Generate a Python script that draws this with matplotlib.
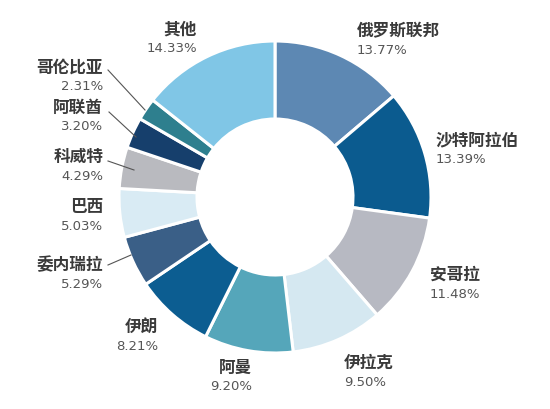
import matplotlib.pyplot as plt

plt.rcParams['font.family'] = ['Noto Sans CJK SC', 'DejaVu Sans']

countries = ['俄罗斯联邦', '沙特阿拉伯', '安哥拉', '伊拉克', '阿曼', '伊朗',
             '委内瑞拉', '巴西', '科威特', '阿联酋', '哥伦比亚', '其他']
shares = [13.77, 13.39, 11.48, 9.50, 9.20, 8.21, 5.29, 5.03, 4.29, 3.20, 2.31, 14.33]
pct_labels = ['13.77%', '13.39%', '11.48%', '9.50%', '9.20%', '8.21%',
              '5.29%', '5.03%', '4.29%', '3.20%', '2.31%', '14.33%']

colors = ['#5d88b3', '#0b5b8f', '#b7b9c2', '#d5e8f1', '#55a6ba', '#0c5d91',
          '#3a5f87', '#d9ebf4', '#b9babf', '#163f6c', '#2e7f8e', '#80c6e6']

# picture layout: centre and radius in pixels
W, H = 550, 409
CX, CY, R = 275, 197, 156


def px(x, y):
    return (x - CX) / R, (CY - y) / R


# label anchors (pixel coords of name text), alignment, leader line end (px) or None
label_pos = {
    '俄罗斯联邦': (357, 31, 'left', None),
    '沙特阿拉伯': (436, 140, 'left', None),
    '安哥拉': (430, 275, 'left', None),
    '伊拉克': (344, 363, 'left', None),
    '阿曼': (252, 368, 'right', None),
    '伊朗': (158, 327, 'right', None),
    '委内瑞拉': (103, 265, 'right', ((108, 265), (131, 255))),
    '巴西': (103, 207, 'right', None),
    '科威特': (103, 157, 'right', ((108, 161), (134, 170))),
    '阿联酋': (103, 108, 'right', ((109, 112), (136, 137))),
    '哥伦比亚': (103, 68, 'right', ((108, 70), (145, 110))),
    '其他': (197, 30, 'right', None),
}

fig = plt.figure(figsize=(W / 100, H / 100), dpi=100)
ax = fig.add_axes([0, 0, 1, 1])
ax.pie(shares, colors=colors, startangle=90, counterclock=False, radius=1,
       wedgeprops=dict(width=0.5, edgecolor='white', linewidth=2.2))

for name, pct in zip(countries, pct_labels):
    x, y, ha, line = label_pos[name]
    tx, ty = px(x, y)
    ax.text(tx, ty, name, ha=ha, va='center', fontsize=12, fontweight='bold',
            color='#3a3a3a')
    px2, py2 = px(x, y + 19)
    ax.text(px2, py2, pct, ha=ha, va='center', fontsize=9.5, color='#555555',
            family=['DejaVu Sans'])
    if line:
        (x1, y1), (x2, y2) = line
        a = px(x1, y1)
        b = px(x2, y2)
        ax.plot([a[0], b[0]], [a[1], b[1]], color='#555555', lw=0.8)

ax.set_xlim(-CX / R, (W - CX) / R)
ax.set_ylim((CY - H) / R, CY / R)
ax.set_aspect('equal')
ax.axis('off')
fig.savefig('out.png', dpi=100)
